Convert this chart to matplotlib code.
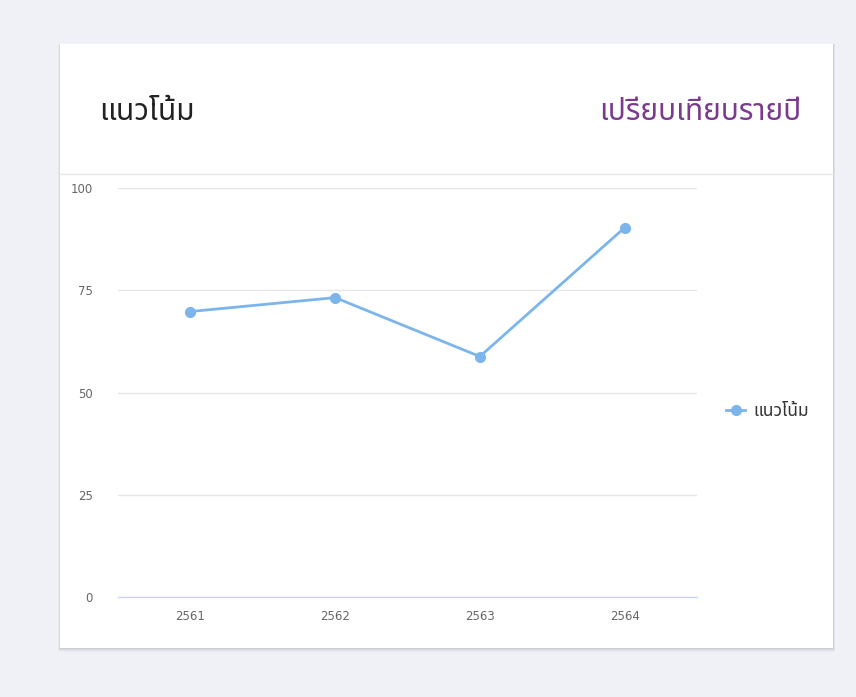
import matplotlib.pyplot as plt
from matplotlib.patches import Rectangle
from matplotlib.lines import Line2D

years = ["2561", "2562", "2563", "2564"]
trend = [69.8, 73.2, 58.8, 90.3]
y_ticks = [0, 25, 50, 75, 100]

title_left = "แนวโน้ม"
title_right = "เปรียบเทียบรายปี"
series_name = "แนวโน้ม"

W, H = 856, 697
line_color = "#7cb5ec"
thai = ["Noto Sans Thai", "Loma", "Tlwg Typo", "DejaVu Sans", "Noto Sans"]

fig = plt.figure(figsize=(W / 100, H / 100), dpi=100)
fig.patch.set_facecolor("#eff1f6")


def px(x, y):
    return x / W, 1 - y / H


# card with soft shadow (mostly below)
for off, a in [(4, 0.025), (3, 0.03), (2, 0.04), (1, 0.05)]:
    x0, y1 = px(60 - off / 2, 648 + off)
    fig.patches.append(Rectangle((x0, y1), (773 + off) / W, (604 + off) / H,
                                 transform=fig.transFigure, facecolor="black", alpha=a,
                                 edgecolor="none", zorder=0))
x0, y1 = px(60, 648)
fig.patches.append(Rectangle((x0, y1), 773 / W, 604 / H, transform=fig.transFigure,
                             facecolor="white", edgecolor="none", zorder=1))
fig.add_artist(Line2D([60 / W, 833 / W], [1 - 174 / H] * 2, color="#e6e6e6", lw=1, zorder=2))

fig.text(*px(99, 112), title_left, fontsize=21.5, color="#222222", ha="left", va="center",
         family=thai, zorder=3)
fig.text(*px(801, 112), title_right, fontsize=21.5, color="#7a3a8e", ha="right", va="center",
         family=thai, zorder=3)

ax = fig.add_axes([118 / W, 1 - 597 / H, 579 / W, 409 / H])
ax.set_facecolor("none")
ax.set_zorder(4)
xs = range(len(years))
ax.set_axisbelow(True)
ax.grid(axis="y", color="#e6e6e6", lw=1)
ax.axhline(0, color="#ccd6eb", lw=1, clip_on=False, zorder=1.5)
ax.plot(xs, trend, color=line_color, lw=2, marker="o", ms=7, mec=line_color, clip_on=False,
        zorder=3)
ax.set_xlim(-0.5, len(years) - 0.5)
ax.set_ylim(0, 100)
ax.set_xticks(list(xs))
ax.set_xticklabels(years)
ax.set_yticks(y_ticks)
for sp in ax.spines.values():
    sp.set_visible(False)
ax.tick_params(length=0, labelsize=8.5, labelcolor="#666666")
ax.tick_params(axis="y", pad=18)
ax.tick_params(axis="x", pad=9)

# legend
fig.add_artist(Line2D([726 / W, 745 / W], [1 - 410 / H] * 2, color=line_color, lw=2, zorder=5))
fig.add_artist(Line2D([735.5 / W], [1 - 410 / H], color=line_color, marker="o", ms=7, zorder=5))
fig.text(*px(753, 411), series_name, fontsize=12.5, color="#333333", ha="left", va="center",
         family=thai, zorder=5)

fig.savefig("out.png", dpi=100, facecolor=fig.get_facecolor())
